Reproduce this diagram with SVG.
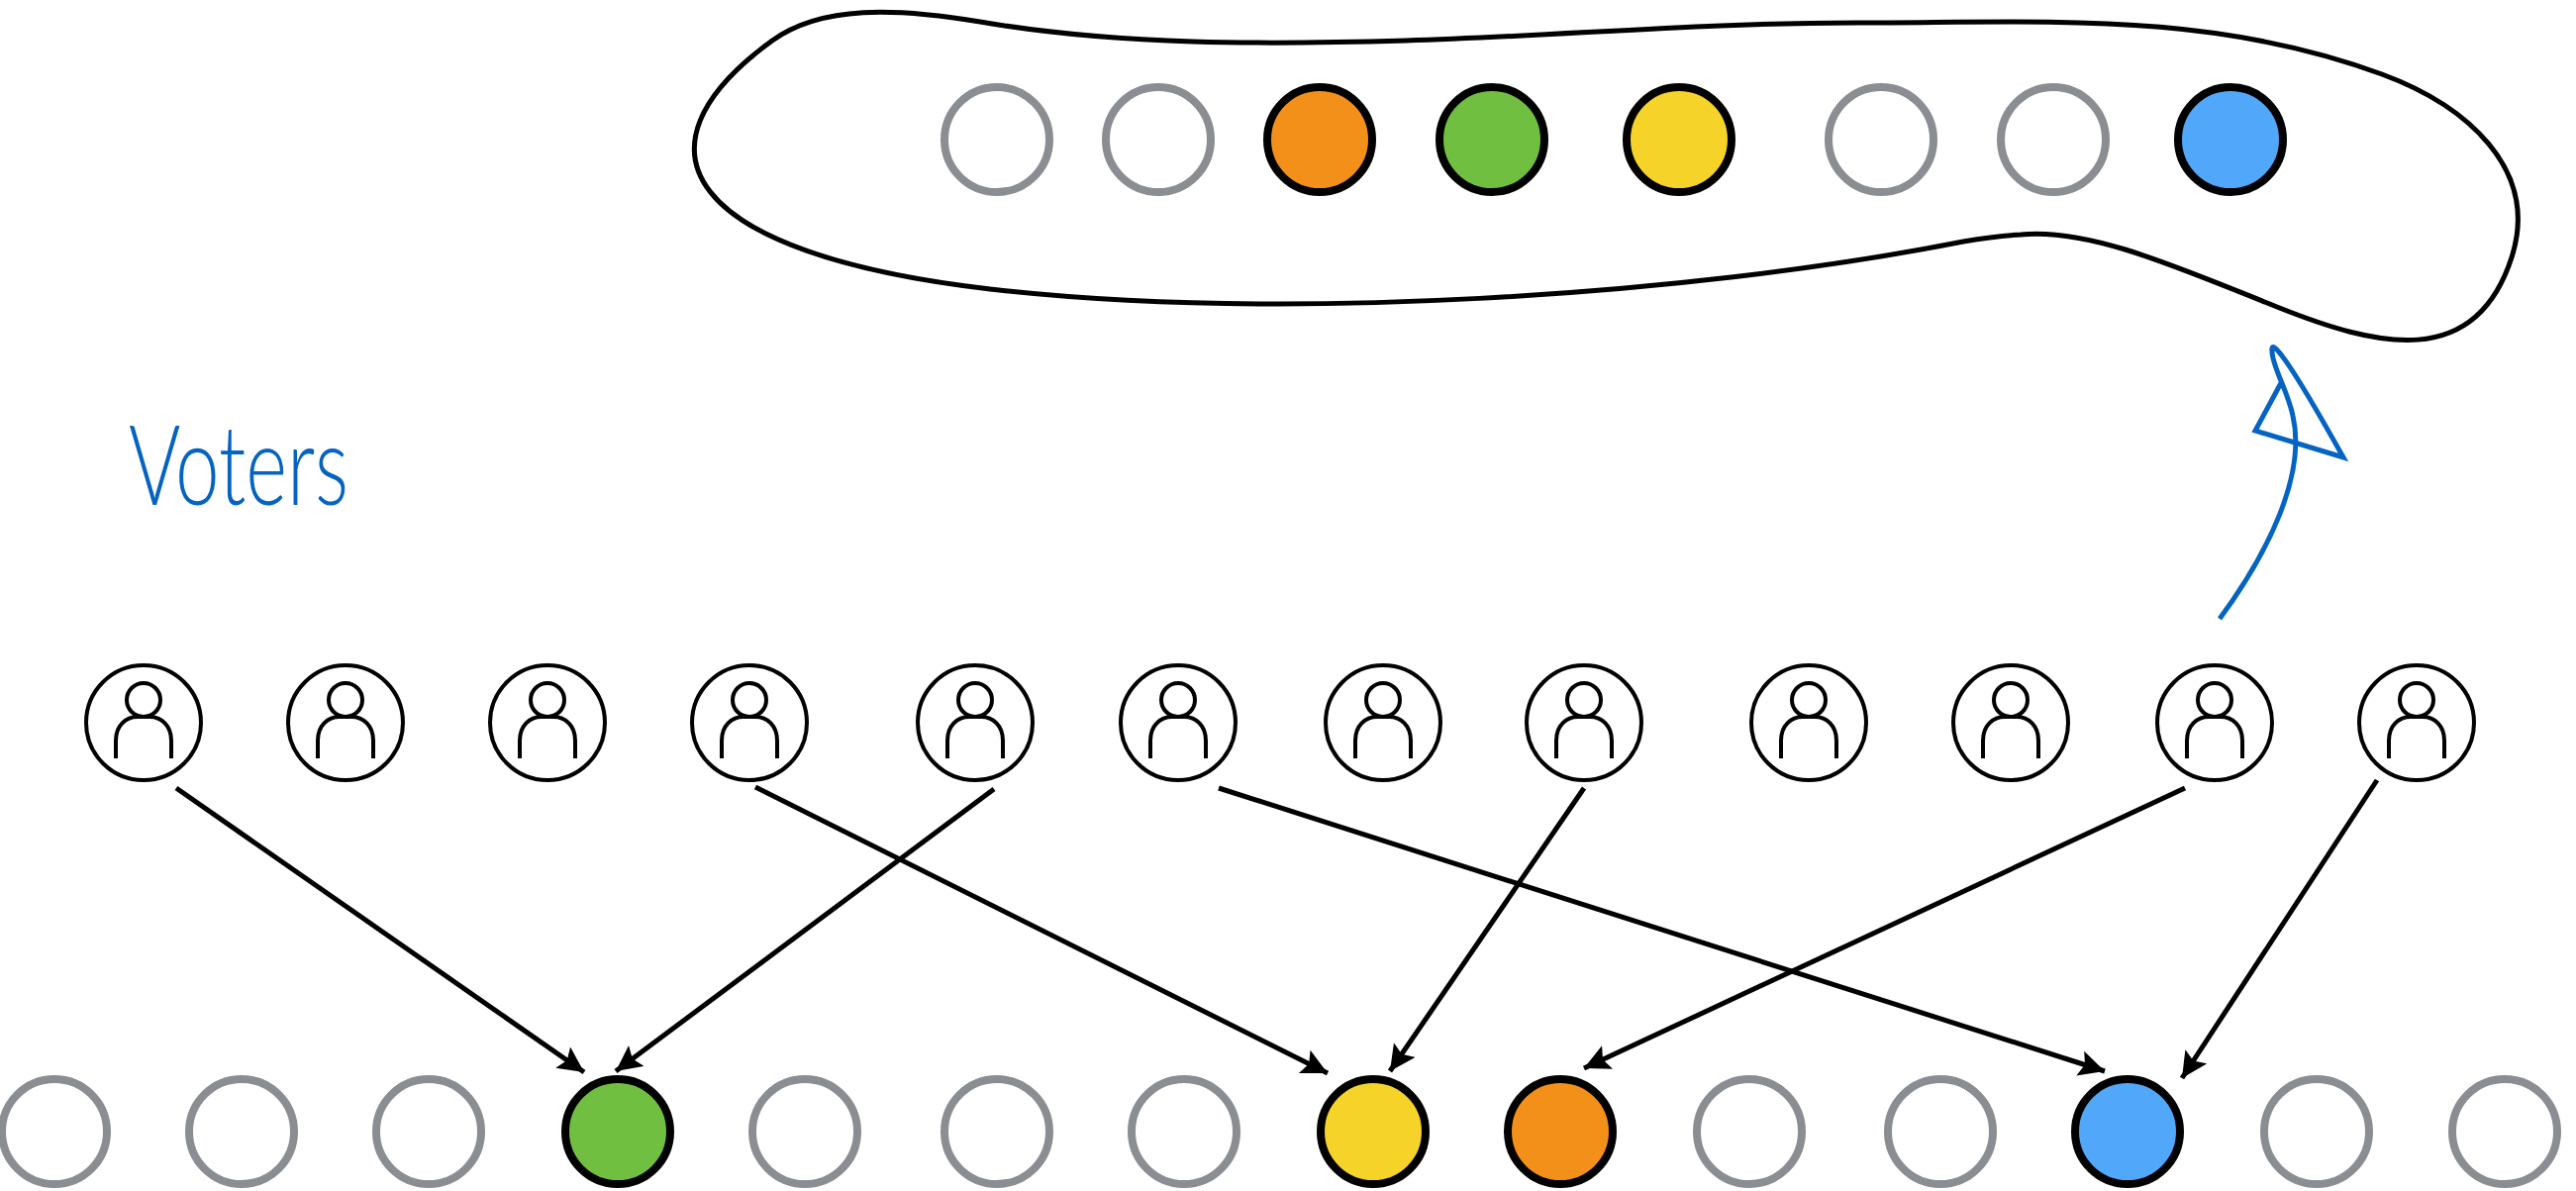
<svg xmlns="http://www.w3.org/2000/svg" xmlns:xlink="http://www.w3.org/1999/xlink" width="2602" height="1203" viewBox="0 0 2602 1203">
<style>
.v{fill:#fff;stroke:#8a8d91;stroke-width:8}
.c{stroke:#000;stroke-width:8}
.o{fill:#f39019}.g{fill:#70bf41}.y{fill:#f5d328}.b{fill:#51a7f9}
.p{fill:#fff;stroke:#000;stroke-width:4}
.i{fill:none;stroke:#000;stroke-width:4}
.l{fill:none;stroke:#000;stroke-width:5;marker-end:url(#a)}
.h{fill:none;stroke:#0563c1;stroke-width:5}
</style>
<defs>
<marker id="a" markerUnits="userSpaceOnUse" markerWidth="30" markerHeight="30" refX="26" refY="13" orient="auto"><path d="M0,0L26,13L0,26L5,13Z" fill="#000"/></marker>
<g id="person"><circle r="58" class="p"/><circle cy="-23" r="17" class="i"/><path class="i" d="M-28,36V18C-28,3-18,-6-6,-6H6C18,-6 28,3 28,18V36"/></g>
</defs>
<rect width="2602" height="1203" fill="#fff"/>
<g id="blob"><path fill="none" stroke="#000" stroke-width="5" d="M780,41C830,5 905,8 990,22C1130,46 1280,45 1420,41C1580,36 1720,23 1875,23C2060,23 2230,10 2406,75C2490,106 2566,170 2537,260C2500,375 2400,350 2300,310C2200,270 2110,230 2041,237C2020,238 2000,241 1983,244C1700,300 1290,325 1000,292C690,256 630,150 780,41Z"/></g>
<g id="selected">
<circle id="s1" class="v" cx="1007" cy="141" r="53"/>
<circle id="s2" class="v" cx="1170" cy="141" r="53"/>
<circle id="s3" class="c o" cx="1333" cy="141" r="53"/>
<circle id="s4" class="c g" cx="1507" cy="141" r="53"/>
<circle id="s5" class="c y" cx="1696" cy="141" r="53"/>
<circle id="s6" class="v" cx="1900" cy="141" r="53"/>
<circle id="s7" class="v" cx="2074" cy="141" r="53"/>
<circle id="s8" class="c b" cx="2253" cy="141" r="53"/>
</g>
<g id="voters">
<use id="p1" href="#person" x="145" y="730"/>
<use id="p2" href="#person" x="349" y="730"/>
<use id="p3" href="#person" x="553" y="730"/>
<use id="p4" href="#person" x="757" y="730"/>
<use id="p5" href="#person" x="985" y="730"/>
<use id="p6" href="#person" x="1190" y="730"/>
<use id="p7" href="#person" x="1397" y="730"/>
<use id="p8" href="#person" x="1600" y="730"/>
<use id="p9" href="#person" x="1827" y="730"/>
<use id="p10" href="#person" x="2031" y="730"/>
<use id="p11" href="#person" x="2237" y="730"/>
<use id="p12" href="#person" x="2441" y="730"/>
</g>
<g id="candidates">
<circle id="c1" class="v" cx="55" cy="1143" r="53"/>
<circle id="c2" class="v" cx="244" cy="1143" r="53"/>
<circle id="c3" class="v" cx="433" cy="1143" r="53"/>
<circle id="c4" class="c g" cx="624" cy="1143" r="53"/>
<circle id="c5" class="v" cx="813" cy="1143" r="53"/>
<circle id="c6" class="v" cx="1007" cy="1143" r="53"/>
<circle id="c7" class="v" cx="1196" cy="1143" r="53"/>
<circle id="c8" class="c y" cx="1387" cy="1143" r="53"/>
<circle id="c9" class="c o" cx="1576" cy="1143" r="53"/>
<circle id="c10" class="v" cx="1767" cy="1143" r="53"/>
<circle id="c11" class="v" cx="1960" cy="1143" r="53"/>
<circle id="c12" class="c b" cx="2149" cy="1143" r="53"/>
<circle id="c13" class="v" cx="2340" cy="1143" r="53"/>
<circle id="c14" class="v" cx="2530" cy="1143" r="53"/>
</g>
<g id="connectors">
<line class="l" x1="178" y1="796" x2="590" y2="1083"/>
<line class="l" x1="1004" y1="797" x2="622" y2="1082"/>
<line class="l" x1="763" y1="795" x2="1341" y2="1084"/>
<line class="l" x1="1600" y1="796" x2="1404" y2="1082"/>
<line class="l" x1="1231" y1="796" x2="2126" y2="1082"/>
<line class="l" x1="2207" y1="796" x2="1600" y2="1079"/>
<line class="l" x1="2401" y1="788" x2="2204" y2="1089"/>
<path class="h" d="M2242,625C2290,560 2330,480 2316,420C2311,395 2295,370 2295,355C2293,340 2310,360 2367,462L2278,435L2305,385"/>
</g>
<g id="label"><text x="130" y="510" font-family="Lato,'Liberation Sans',sans-serif" font-size="112" fill="#0563c1" textLength="222" lengthAdjust="spacingAndGlyphs" font-weight="300">Voters</text></g>
</svg>
